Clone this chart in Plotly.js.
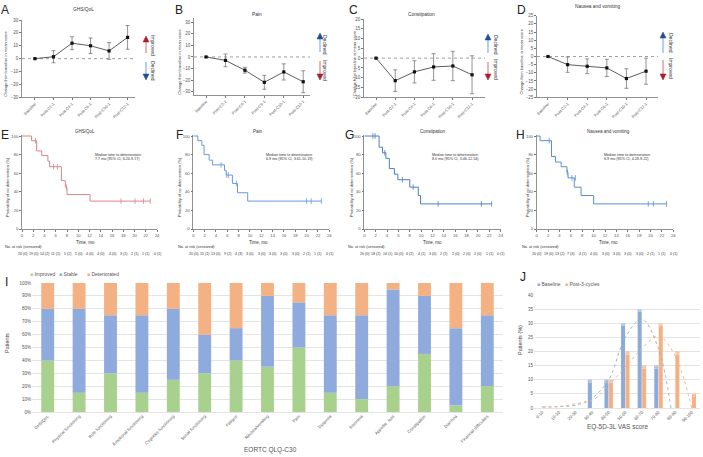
<!DOCTYPE html>
<html><head><meta charset="utf-8">
<script src="https://cdn.plot.ly/plotly-3.0.1.min.js"></script>
<style>html,body{margin:0;padding:0;background:#fff}#chart{width:703px;height:457px}</style>
</head><body><div id="chart"></div>
<script>
const W = 703, H = 457;
const FONT = "Arial, 'Liberation Sans', sans-serif";

// ---------- Data: top row (change from baseline) ----------
const timepoints = ["Baseline","Post-C2-1","Post-C4-1","Post-C6-1","Post-C10-1","Post-C12-1"];
const ghsMean   = [0, 1.5, 12, 10, 6, 16.5];
const ghsErr    = [0, 4.7, 5, 6, 6.5, 9.2];
const painMean  = [0, -3, -11.5, -22, -13, -21.5];
const painErr   = [0, 5.5, 2.5, 6, 7, 9.5];
const constMean = [0, -11.5, -7, -4.5, -4, -8.5];
const constErr  = [0, 5.5, 5.7, 6.8, 7.5, 9.7];
const nvMean    = [0, -5, -6, -7, -13.5, -9];
const nvErr     = [0, 4.7, 4.5, 5.3, 6, 8];

// ---------- Data: Kaplan-Meier ----------
const ghsKmT  = [0, 1.7, 2.6, 3.5, 4.6, 4.9, 7.0, 7.7, 8.0, 12.1, 22.8];
const ghsKmS  = [100, 95, 84, 79, 73, 67, 52, 45, 37, 30, 30];
const ghsCenT = [2.4, 5.6, 6.3, 7.9, 17.6, 20.1, 21.6, 22.8];
const ghsCenS = [95, 67, 67, 45, 30, 30, 30, 30];

const painKmT  = [0, 0.8, 1.5, 1.9, 2.8, 3.4, 5.5, 5.8, 6.9, 7.8, 9.6, 22.6];
const painKmS  = [100, 95, 90, 80, 74, 69, 63, 58, 49, 39, 30, 30];
const painCenT = [4.9, 5.9, 6.2, 7.6, 20.0, 20.8, 22.6];
const painCenS = [69, 58, 58, 49, 30, 30, 30];

const constKmT  = [0, 2.6, 3.2, 3.8, 4.4, 5.3, 5.9, 8.0, 9.5, 9.9, 22.4];
const constKmS  = [100, 88, 82, 76, 65, 59, 53, 45, 36, 27, 27];
const constCenT = [1.5, 1.9, 3.6, 6.7, 8.6, 13.0, 20.6, 22.4];
const constCenS = [100, 100, 82, 53, 45, 27, 27, 27];

const nvKmT  = [0, 0.6, 2.6, 3.3, 4.3, 5.3, 5.5, 6.6, 7.8, 10.0, 22.8];
const nvKmS  = [100, 95, 78, 72, 67, 61, 55, 45, 36, 27, 27];
const nvCenT = [2.2, 5.4, 6.2, 6.8, 19.6, 20.5, 22.8];
const nvCenS = [95, 61, 55, 55, 27, 27, 27];

const riskTimes = [0,2,4,6,8,10,12,14,16,18,20,22,24];
const ghsRisk   = ["20 (0)","19 (0)","14 (2)","11 (1)","5 (2)","5 (0)","4 (0)","4 (0)","4 (0)","3 (1)","2 (1)","1 (1)","0 (1)"];
const painRisk  = ["20 (0)","15 (1)","13 (0)","9 (2)","4 (3)","3 (0)","3 (0)","3 (0)","3 (0)","3 (0)","2 (1)","1 (1)","0 (1)"];
const constRisk = ["20 (0)","18 (2)","14 (1)","10 (0)","6 (2)","4 (1)","3 (0)","2 (1)","2 (0)","2 (0)","2 (0)","1 (1)","0 (1)"];
const nvRisk    = ["20 (0)","19 (0)","13 (2)","7 (3)","4 (1)","4 (0)","3 (0)","3 (0)","3 (0)","3 (0)","2 (1)","1 (1)","0 (1)"];

// ---------- Data: panel I ----------
const qlqCats = ["GHS/QoL","Physical functioning","Role functioning","Emotional functioning","Cognitive functioning","Social functioning","Fatigue","Nausea/vomiting","Pain","Dyspnea","Insomnia","Appetite  loss","Constipation","Diarrhea","Financial difficulties"];
const improved     = [40,15,30,15,25,30,40,35,50,15,10,20,45,5,20];
const stable       = [40,65,45,60,55,30,25,55,35,60,65,75,45,60,55];
const deteriorated = [20,20,25,25,20,40,35,10,15,25,25,5,10,35,25];

// ---------- Data: panel J ----------
const vasBins   = ["0-10","10-20","20-30","30-40","40-50","50-60","60-70","70-80","80-90","90-100"];
const vasBaseline = [0,0,0,10,10,30,35,15,0,0];
const vasPost     = [0,0,0,0,10,20,15,30,20,5];
const baseTrendX = [0,1,2,3,4,5,6,7,7.75];
const baseTrendY = [0.3,0.5,1,3.5,10,25,31.5,21,0];
const postTrendX = [0,1,2,3,4,5,6,7,8,9];
const postTrendY = [0.5,0.5,1.5,2.7,8,14.5,21,25.5,18.5,0];

// ---------- helpers ----------
const dx = (l, r) => [l / W, r / W];
const dy = (t, b) => [1 - b / H, 1 - t / H];
const PX = x => x / W, PY = y => 1 - y / H;
function ann(x, y, text, o = {}) {
  return Object.assign({xref:'paper', yref:'paper', x:PX(x), y:PY(y), text, showarrow:false,
    font:{family:FONT, size:o.size || 5, color:o.color || '#333'}, xanchor:o.xa || 'center', yanchor:o.ya || 'middle',
    textangle:o.angle || 0}, o.extra || {});
}

const traces = [];
const annotations = [];
const shapes = [];
const layout = {
  width: W, height: H, margin:{l:0,r:0,t:0,b:0}, showlegend:false,
  paper_bgcolor:'#fff', plot_bgcolor:'rgba(0,0,0,0)', font:{family:FONT, size:5, color:'#444'},
  barmode:'group', bargap:0.46, bargroupgap:0.1
};

// ---------- top row ----------
const topPanels = [
  {n:1, mean:ghsMean, err:ghsErr, xd:[22,135], yd:[20,97.3], xr:[-0.7,5.4], yr:[-30,30], dt:10, title:'GHS/QoL', tx:83, ty:9, ytx:6, letter:'A', lx:5},
  {n:2, mean:painMean, err:painErr, xd:[194,310], yd:[18.3,95], xr:[-0.62,5.35], yr:[-33,33.5], dt:10, title:'Pain', tx:257, ty:15, ytx:180, letter:'B', lx:179},
  {n:3, mean:constMean, err:constErr, xd:[364,485], yd:[19,97.3], xr:[-0.625,5.675], yr:[-20,20], dt:5, title:'Constipation', tx:422, ty:15, ytx:354, letter:'C', lx:353},
  {n:4, mean:nvMean, err:nvErr, xd:[537,658], yd:[15.7,97.3], xr:[-0.56,5.61], yr:[-25,25], dt:5, title:'Nausea and vomiting', tx:597, ty:7, ytx:521, letter:'D', lx:521}
];
topPanels.forEach(p => {
  const xa = 'x' + p.n, ya = 'y' + p.n;
  traces.push({type:'scatter', x:timepoints, y:p.mean, xaxis:xa, yaxis:ya, mode:'lines+markers',
    line:{color:'#333', width:0.8}, marker:{symbol:'square', size:3.2, color:'#111'},
    error_y:{type:'data', array:p.err, visible:true, color:'#777', thickness:0.8, width:2}, cliponaxis:false});
  layout['xaxis' + p.n] = {domain:dx(...p.xd), anchor:ya, type:'category', range:p.xr, showgrid:false, zeroline:false,
    showline:true, linecolor:'#777', linewidth:0.8, ticks:'outside', ticklen:2, tickcolor:'#777', tickangle:-45,
    tickfont:{size:4, color:'#555'}};
  layout['yaxis' + p.n] = {domain:dy(...p.yd), anchor:xa, range:p.yr, dtick:p.dt, tick0:0, showgrid:false, zeroline:false,
    showline:true, linecolor:'#777', linewidth:0.8, ticks:'outside', ticklen:2, tickcolor:'#777',
    tickfont:{size:4.5, color:'#555'}};
  shapes.push({type:'line', xref:xa + ' domain', yref:ya, x0:0, x1:1, y0:0, y1:0, line:{color:'#888', width:0.8, dash:'dot'}, layer:'below'});
  annotations.push(ann(p.tx, p.ty, p.title, {size:4.8}));
  annotations.push(ann(p.ytx, (p.yd[0] + p.yd[1]) / 2 + 5, 'Change from baseline in mean score', {size:4, angle:-90}));
  annotations.push(ann(p.lx, 10, p.letter, {size:12, color:'#222'}));
});

// arrows
const RED_S = '#e6a3a7', RED_H = '#a3202c', BLUE_S = '#a3c4e6', BLUE_H = '#1f4e99';
function arrow(x, tail, tip, sc, hc) {
  const dir = tip < tail ? -1 : 1; // -1 = up
  const base = tip - dir * 6;
  shapes.push({type:'line', xref:'paper', yref:'paper', x0:PX(x), x1:PX(x), y0:PY(tail), y1:PY(base), line:{color:sc, width:1.6}});
  shapes.push({type:'path', xref:'paper', yref:'paper',
    path:`M ${PX(x-3)} ${PY(base)} L ${PX(x+3)} ${PY(base)} L ${PX(x)} ${PY(tip)} Z`, fillcolor:hc, line:{color:hc, width:0.5}});
}
arrow(146, 53, 36, RED_S, RED_H);  arrow(146, 62, 80, BLUE_S, BLUE_H);
annotations.push(ann(153, 45, 'Improved', {size:5, angle:90}));
annotations.push(ann(153, 71, 'Declined', {size:5, angle:90}));
arrow(320, 52, 33, BLUE_S, BLUE_H); arrow(320, 61, 80, RED_S, RED_H);
annotations.push(ann(325, 45, 'Declined', {size:5, angle:90}));
annotations.push(ann(325, 70, 'Improved', {size:5, angle:90}));
arrow(488, 53, 34, BLUE_S, BLUE_H); arrow(488, 62, 80, RED_S, RED_H);
annotations.push(ann(496, 45, 'Declined', {size:5, angle:90}));
annotations.push(ann(496, 69, 'Improved', {size:5, angle:90}));
arrow(663, 53, 32, BLUE_S, BLUE_H); arrow(663, 60, 80, RED_S, RED_H);
annotations.push(ann(671, 43, 'Declined', {size:5, angle:90}));
annotations.push(ann(671, 68, 'Improved', {size:5, angle:90}));

// ---------- KM row ----------
const kmPanels = [
  {n:5, t:ghsKmT, s:ghsKmS, ct:ghsCenT, cs:ghsCenS, risk:ghsRisk, col:'#d9868b', xd:[22,157], title:'GHS/QoL', tx:85, letter:'E', lx:5, ytx:7, med:['Median time to deterioration:','7.7 mo (95% CI, 6.24-9.17)'], mx:93, rl:3},
  {n:6, t:painKmT, s:painKmS, ct:painCenT, cs:painCenS, risk:painRisk, col:'#6a9bd8', xd:[193.3,329.3], title:'Pain', tx:258, letter:'F', lx:179, ytx:179, med:['Median time to deterioration:','6.9 mo (95% CI, 3.61-10.19)'], mx:264, rl:176},
  {n:7, t:constKmT, s:constKmS, ct:constCenT, cs:constCenS, risk:constRisk, col:'#4d7fc4', xd:[364.3,500.7], title:'Constipation', tx:433, letter:'G', lx:349, ytx:351, med:['Median time to deterioration:','8.0 mo (95% CI, 3.46-12.54)'], mx:430, rl:346},
  {n:8, t:nvKmT, s:nvKmS, ct:nvCenT, cs:nvCenS, risk:nvRisk, col:'#5b8ed0', xd:[536.7,673.3], title:'Nausea and vomiting', tx:608, letter:'H', lx:520, ytx:527, med:['Median time to deterioration:','6.9 mo (95% CI, 4.28-9.22)'], mx:602, rl:520}
];
kmPanels.forEach(p => {
  const xa = 'x' + p.n, ya = 'y' + p.n;
  traces.push({type:'scatter', x:p.t, y:p.s, xaxis:xa, yaxis:ya, mode:'lines', line:{shape:'hv', color:p.col, width:1}});
  traces.push({type:'scatter', x:p.ct, y:p.cs, xaxis:xa, yaxis:ya, mode:'markers',
    marker:{symbol:'line-ns-open', size:4, color:p.col, line:{color:p.col, width:0.8}}, cliponaxis:false});
  layout['xaxis' + p.n] = {domain:dx(...p.xd), anchor:ya, range:[0,24], dtick:2, tick0:0, showgrid:false, zeroline:false,
    showline:true, linecolor:'#777', linewidth:0.8, ticks:'outside', ticklen:2, tickcolor:'#777', tickfont:{size:4.2, color:'#555'}};
  layout['yaxis' + p.n] = {domain:dy(135.1, 229), anchor:xa, range:[0,101], dtick:20, tick0:0, showgrid:false, zeroline:false,
    showline:true, linecolor:'#777', linewidth:0.8, ticks:'outside', ticklen:2, tickcolor:'#777', tickfont:{size:4.2, color:'#555'}};
  annotations.push(ann(p.tx, 131, p.title, {size:4.5}));
  annotations.push(ann(p.lx, 135, p.letter, {size:12, color:'#222'}));
  annotations.push(ann(p.ytx, 187, 'Probability of no deterioration (%)', {size:4, angle:-90}));
  annotations.push(ann(p.tx, 242, 'Time, mo', {size:4.5}));
  annotations.push(ann(p.mx, 155, p.med[0], {size:3.7, xa:'left'}));
  annotations.push(ann(p.mx, 159.3, p.med[1], {size:3.7, xa:'left'}));
  annotations.push(ann(p.rl, 247, 'No. at risk (censored):', {size:3.8, xa:'left'}));
  p.risk.forEach((r, i) => {
    annotations.push({xref:xa, yref:'paper', x:riskTimes[i], y:PY(254), text:r, showarrow:false,
      font:{family:FONT, size:3.6, color:'#333'}, xanchor:'center', yanchor:'middle'});
  });
});

// ---------- Panel I ----------
const stableBase = improved.slice();
const detBase = improved.map((v, i) => v + stable[i]);
const barW = 0.41, barOff = -0.205;
traces.push({type:'bar', x:qlqCats, y:improved, xaxis:'x9', yaxis:'y9', marker:{color:'#a9d18e'}, width:barW, offset:barOff, name:'Improved'});
traces.push({type:'bar', x:qlqCats, y:stable, base:stableBase, xaxis:'x9', yaxis:'y9', marker:{color:'#8faadc'}, width:barW, offset:barOff, name:'Stable'});
traces.push({type:'bar', x:qlqCats, y:deteriorated, base:detBase, xaxis:'x9', yaxis:'y9', marker:{color:'#f4b183'}, width:barW, offset:barOff, name:'Deteriorated'});
layout.xaxis9 = {domain:dx(32,503), anchor:'y9', type:'category', showgrid:false, zeroline:false, showline:false,
  ticks:'', tickangle:-45, tickfont:{size:4.3, color:'#555'}};
layout.yaxis9 = {domain:dy(283,412), anchor:'x9', range:[0,100], dtick:10, ticksuffix:'%', showgrid:true, gridcolor:'#d9d9d9', gridwidth:0.7,
  zeroline:true, zerolinecolor:'#d9d9d9', zerolinewidth:0.7, showline:false, tickfont:{size:4.5, color:'#555'}};
annotations.push(ann(3, 282, 'I', {size:12, color:'#222', xa:'left'}));
annotations.push(ann(270, 450, 'EORTC QLQ-C30', {size:6.5, color:'#555'}));
annotations.push(ann(7, 343, 'Patients', {size:5.5, angle:-90, color:'#444'}));
annotations.push(ann(28, 274, "<span style='color:#a9d18e'>■</span> Improved", {size:5, xa:'left', color:'#555'}));
annotations.push(ann(57, 274, "<span style='color:#8faadc'>■</span> Stable", {size:5, xa:'left', color:'#555'}));
annotations.push(ann(85, 274, "<span style='color:#f4b183'>■</span> Deteriorated", {size:5, xa:'left', color:'#555'}));

// ---------- Panel J ----------
const vasX = vasBins.map((_, i) => i);
traces.push({type:'bar', x:vasX, y:vasBaseline, xaxis:'x10', yaxis:'y10', marker:{color:'#8eaadb'}, name:'Baseline',
  text:vasBaseline.map(v => v ? String(v) : ''), textposition:'inside', insidetextanchor:'end', textfont:{size:3.5, color:'#fff'}});
traces.push({type:'bar', x:vasX, y:vasPost, xaxis:'x10', yaxis:'y10', marker:{color:'#f4b183'}, name:'Post-3-cycles',
  text:vasPost.map(v => v ? String(v) : ''), textposition:'inside', insidetextanchor:'end', textfont:{size:3.5, color:'#fff'}});
traces.push({type:'scatter', x:baseTrendX, y:baseTrendY, xaxis:'x10', yaxis:'y10', mode:'lines', line:{shape:'spline', color:'#8eaadb', width:0.9, dash:'dot'}});
traces.push({type:'scatter', x:postTrendX, y:postTrendY, xaxis:'x10', yaxis:'y10', mode:'lines', line:{shape:'spline', color:'#f4b183', width:0.9, dash:'dot'}});
layout.xaxis10 = {domain:dx(534,700), anchor:'y10', range:[-0.5,9.5], tickvals:vasX, ticktext:vasBins, showgrid:false, zeroline:false,
  showline:false, ticks:'', tickangle:-45, tickfont:{size:4.3, color:'#555'}};
layout.yaxis10 = {domain:dy(295,408), anchor:'x10', range:[0,40], dtick:5, showgrid:true, gridcolor:'#d9d9d9', gridwidth:0.7,
  zeroline:true, zerolinecolor:'#d9d9d9', zerolinewidth:0.7, showline:false, tickfont:{size:4.5, color:'#555'}};
annotations.push(ann(518, 277, 'J', {size:12, color:'#222', xa:'left'}));
annotations.push(ann(535, 284, "<span style='color:#8eaadb'>■</span> Baseline", {size:5, xa:'left', color:'#555'}));
annotations.push(ann(563, 284, "<span style='color:#f4b183'>■</span> Post-3-cycles", {size:5, xa:'left', color:'#555'}));
annotations.push(ann(617, 427, 'EQ-5D-3L VAS score', {size:6.5, color:'#555'}));
annotations.push(ann(520, 340, 'Patients (%)', {size:5.5, angle:-90, color:'#444'}));

layout.annotations = annotations;
layout.shapes = shapes;
Plotly.newPlot('chart', traces, layout, {displayModeBar:false, staticPlot:true});
</script>
</body></html>
